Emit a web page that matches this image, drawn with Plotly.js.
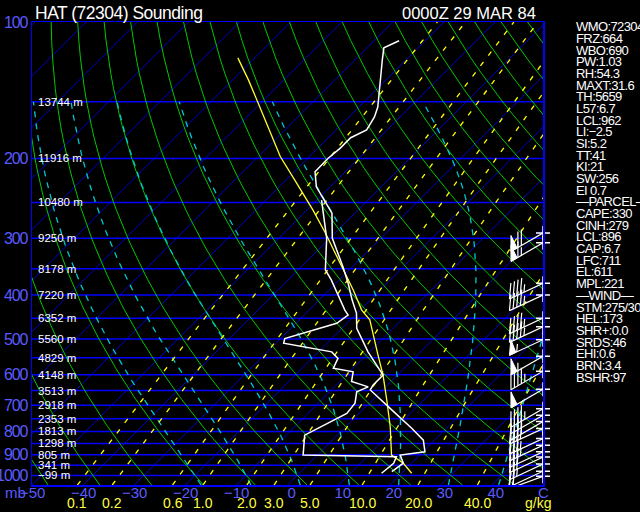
<!DOCTYPE html>
<html><head><meta charset="utf-8">
<script src="https://cdn.plot.ly/plotly-3.0.1.min.js"></script>
<style>html,body{margin:0;padding:0;background:#000;overflow:hidden}#chart{width:640px;height:512px}</style>
</head><body><div id="chart"></div>
<script>
// ---------------- data ----------------
const tempP = [110,114,121,138,154,162,173,180,190,200,214,231,247,264,300,318,347,377,410,439,474,534,571,601,632,648,717,787,836,887,902,940,981];
const tempC = [-65.1,-66.7,-64.7,-60.2,-56.3,-55.0,-54.0,-55.6,-55.6,-56.0,-55.9,-52.7,-48.6,-44.5,-39.5,-36.4,-31.8,-27.6,-23.6,-20.1,-17.1,-10.3,-6.0,-2.8,-2.8,-2.4,5.7,13.2,17.8,20.4,16.2,18.4,17.8];
const dewP = [247,300,310,352,371,409,432,443,462,499,511,534,552,580,591,621,638,654,693,730,774,815,902,910,940,989];
const dewC = [-49.1,-40.6,-39.4,-34.7,-31.5,-26.0,-23.0,-21.4,-22.0,-29.2,-28.5,-17.4,-14.9,-13.9,-9.3,-7.7,-3.4,-4.7,-2.8,-2.4,-4.7,-6.4,-2.8,15.8,16.5,16.1];
const parcelP = [120,134,152,198,227,260,292,329,358,390,432,454,543,601,682,781,902,940,989];
const parcelC = [-93.3,-87.0,-80.1,-65.7,-57.2,-48.8,-41.9,-35.1,-30.2,-25.3,-19.7,-16.2,-7.7,-2.8,2.8,8.7,14.5,18.4,22.0];

const windP   = [292,307,377,400,450,470,502,546,589,646,713,737,761,788,829,858,887,911,944,979,1005];
const windDir = [240,240,245,245,245,245,245,240,240,240,240,240,240,245,245,245,245,245,245,245,250];
const windKt  = [70,65,45,45,45,45,55,55,45,50,45,40,40,40,35,35,30,30,25,20,15];

const pressureTicks = [100,200,300,400,500,600,700,800,900,1000];
const isobarP = [150,200,250,300,350,400,450,500,550,600,650,700,750,800,850,900,950,1000];
const heightM = [13744,11916,10480,9250,8178,7220,6352,5560,4829,4148,3513,2918,2353,1813,1298,805,341,-99];
const tempTicks = [-50,-40,-30,-20,-10,0,10,20,30,40,50];
const tempTickText = ['\u221250','\u221240','\u221230','\u221220','\u221210','\u20020','\u200210','\u200220','\u200230','\u200240','C'];
const mixRatios = [0.1,0.2,0.6,1.0,2.0,3.0,5.0,10.0,20.0,40.0];
const mixRatioText = ['0.1','0.2','0.6','1.0','2.0','3.0','5.0','10.0','20.0','40.0'];
const indexLines = ['WMO:72304','FRZ:664','WBO:690','PW:1.03','RH:54.3','MAXT:31.6','TH:5659','L57:6.7','LCL:962','LI:\u22122.5','SI:5.2','TT:41','KI:21','SW:256','EI 0.7','\u2014PARCEL\u2014','CAPE:330','CINH:279','LCL:896','CAP:6.7','LFC:711','EL:611','MPL:221','\u2014WIND\u2014','STM:275/30','HEL:173','SHR+:0.0','SRDS:46','EHI:0.6','BRN:3.4','BSHR:97'];

// ---------------- geometry ----------------
const W = 640, H = 512;
const M = {l:32, r:97, t:22, b:27};
const PBOT = 1050, PTOP = 100;
const plotW = W - M.l - M.r, plotH = H - M.t - M.b;
const pxX = plotW / 100;
const pxDec = plotH / Math.log10(PBOT / PTOP);
const SKEW = pxDec / pxX;           // 45 degree isotherms
const sx = (T, p) => T + SKEW * Math.log10(PBOT / p);

const FONT = '"Liberation Sans", Arial, sans-serif';
const BLUE = '#0000ff', LBLUE = '#5a5aff', GREEN = '#00c800', CYAN = '#00c8d0', YEL = '#ffff00';
const tight = (t, ls) => '<span style="letter-spacing:' + ls + 'px">' + t + '</span>';

const traces = [];
function multi(lines, line, extra) {
  const x = [], y = [];
  lines.forEach(L => { L.forEach(([a, b]) => { x.push(a); y.push(b); }); x.push(null); y.push(null); });
  traces.push(Object.assign({type:'scatter', mode:'lines', x, y, line, hoverinfo:'skip', showlegend:false}, extra || {}));
}
const pLevels = [];
for (let p = PBOT; p >= PTOP - 0.01; p -= 10) pLevels.push(p);

// isotherms
const iso = [];
for (let T = -160; T <= 50; T += 10) iso.push([[sx(T, PBOT), PBOT], [sx(T, PTOP), PTOP]]);
multi(iso, {color: BLUE, width: 0.8});
// isobars
multi(isobarP.map(p => [[-50, p], [50, p]]), {color: BLUE, width: 1.5});

// dry adiabats
const dry = [];
for (let th = 183.15; th <= 463.15; th += 10) dry.push(pLevels.map(p => [sx(th * Math.pow(p / 1000, 0.2857) - 273.15, p), p]));
multi(dry, {color: GREEN, width: 1});

// moist adiabats
const esat = T => 6.112 * Math.exp(17.67 * T / (T + 243.5));
function lapse(p, TK) {
  const Rd = 287.04, Cp = 1005.7, Lv = 2.501e6, eps = 0.622;
  const es = esat(TK - 273.15), rs = eps * es / (p - es);
  return (Rd * TK + Lv * rs) / (p * (Cp + Lv * Lv * rs * eps / (Rd * TK * TK)));
}
function moist(thw) {
  const up = [], down = [];
  let T = thw + 273.15;
  for (let p = 1000; p >= 150; p -= 2) {
    if (p % 10 === 0) up.push([sx(T - 273.15, p), p]);
    const k1 = lapse(p, T), k2 = lapse(p - 1, T - k1);
    T -= 2 * k2;
  }
  T = thw + 273.15;
  for (let p = 1000; p <= 1050; p += 2) {
    if (p % 10 === 0) down.push([sx(T - 273.15, p), p]);
    const k1 = lapse(p, T), k2 = lapse(p + 1, T + k1);
    T += 2 * k2;
  }
  return down.reverse().concat(up.slice(1));
}
const moistLines = [];
for (let t = -20; t <= 40; t += 10) moistLines.push(moist(t));
multi(moistLines, {color: CYAN, width: 1.3, dash: '6px,6px'});

// mixing ratio lines
const tdFromE = e => { const l = Math.log(e / 6.112); return 243.5 * l / (17.67 - l); };
const mixT = (w, p) => tdFromE(w * p / (622 + w));
multi(mixRatios.map(w => pLevels.map(p => [sx(mixT(w, p), p), p])), {color: YEL, width: 1.3, dash: '5px,8px'});

// sounding
traces.push({type:'scatter', mode:'lines', x: parcelP.map((p, i) => sx(parcelC[i], p)), y: parcelP, line:{color:'#ffff30', width:1.3}, hoverinfo:'skip', showlegend:false});
traces.push({type:'scatter', mode:'lines', x: dewP.map((p, i) => sx(dewC[i], p)), y: dewP, line:{color:'#ffffff', width:1.5}, hoverinfo:'skip', showlegend:false});
traces.push({type:'scatter', mode:'lines', x: tempP.map((p, i) => sx(tempC[i], p)), y: tempP, line:{color:'#ffffff', width:1.5}, hoverinfo:'skip', showlegend:false});

// wind barbs (built in screen-pixel offsets from each base point)
const toData = (p, dx, dy) => [50 + dx / pxX, Math.pow(10, Math.log10(p) + dy / pxDec)];
const barbs = [], flags = [];
windP.forEach((p, i) => {
  const r = windDir[i] * Math.PI / 180;
  const ux = Math.sin(r), uy = -Math.cos(r);
  const px = -uy, py = ux;
  const L = 37, F = 16;
  const vx = -0.5 * ux + 0.866 * px, vy = -0.5 * uy + 0.866 * py;
  const tip = [L * ux, L * uy];
  barbs.push([toData(p, 0, 0), toData(p, tip[0], tip[1])]);
  let s = Math.round(windKt[i] / 5) * 5, off = 0;
  while (s >= 50) {
    const a = [tip[0] - off * ux, tip[1] - off * uy];
    const c = [a[0] - 7 * ux, a[1] - 7 * uy];
    const b = [a[0] + F * vx, a[1] + F * vy];
    flags.push([toData(p, a[0], a[1]), toData(p, b[0], b[1]), toData(p, c[0], c[1]), toData(p, a[0], a[1])]);
    s -= 50; off += 8;
  }
  while (s >= 10) {
    const a = [tip[0] - off * ux, tip[1] - off * uy];
    barbs.push([toData(p, a[0], a[1]), toData(p, a[0] + F * vx, a[1] + F * vy)]);
    s -= 10; off += 4;
  }
  if (s >= 5) {
    if (off === 0) off = 4;
    const a = [tip[0] - off * ux, tip[1] - off * uy];
    barbs.push([toData(p, a[0], a[1]), toData(p, a[0] + 0.5 * F * vx, a[1] + 0.5 * F * vy)]);
  }
});
multi(flags, {color:'#ffffff', width:1}, {fill:'toself', fillcolor:'#ffffff'});
multi(barbs, {color:'#ffffff', width:1.2});
traces.push({type:'scatter', mode:'markers', x: windP.map(() => 50), y: windP, cliponaxis:false,
  marker:{symbol:'cross-thin', size:10, line:{color:'#ffffff', width:1.5}}, hoverinfo:'skip', showlegend:false});

// ---------------- annotations ----------------
const ann = [];
isobarP.forEach((p, i) => ann.push({xref:'paper', yref:'y', x:0, y:Math.log10(p), xanchor:'left', yanchor:'middle', xshift:4,
  text: String(heightM[i]).replace('-', '\u2212') + ' m', showarrow:false, font:{family:FONT, size:11.5, color:'#ffffff'}}));
tempTicks.forEach((t, i) => ann.push({xref:'x', yref:'paper', x:t, y:0, xanchor:'center', yanchor:'middle', yshift:-7,
  text: tempTickText[i], showarrow:false, font:{family:FONT, size:15, color:LBLUE}}));
mixRatios.forEach((w, i) => ann.push({xref:'x', yref:'paper', x:mixT(w, PBOT), y:0, xanchor:'center', yanchor:'middle', yshift:-18,
  text: mixRatioText[i], showarrow:false, font:{family:FONT, size:14, color:'#ffff40'}}));
ann.push({xref:'x', yref:'paper', x:49, y:0, xanchor:'center', yanchor:'middle', yshift:-18, text:'g/kg', showarrow:false, font:{family:FONT, size:14, color:'#ffff40'}});
ann.push({xref:'paper', yref:'paper', x:0, y:0, xanchor:'right', yanchor:'middle', xshift:-4, yshift:-7, text:'mb', showarrow:false, font:{family:FONT, size:15, color:LBLUE}});
ann.push({xref:'paper', yref:'paper', x:1, y:1, xanchor:'right', yanchor:'middle', xshift:-5, yshift:9, text:'0000Z 29 MAR 84', showarrow:false, font:{family:FONT, size:16.5, color:'#ffffff'}});
indexLines.forEach((t, i) => ann.push({xref:'paper', yref:'paper', x:1, y:1, xanchor:'left', yanchor:'middle', xshift:31, yshift:-(4.7 + i * 11.68),
  text: tight(t, -0.6), showarrow:false, font:{family:FONT, size:13, color:'#ffffff'}}));

const layout = {
  width:W, height:H, margin:M, paper_bgcolor:'#000', plot_bgcolor:'#000', showlegend:false,
  title:{text: tight('HAT (72304) Sounding', -0.5), x:35 / W, xanchor:'left', xref:'container', y:1 - 13 / H, yanchor:'middle', yref:'container', font:{family:FONT, size:17.5, color:'#ffffff'}},
  xaxis:{range:[-50, 50], showgrid:false, zeroline:false, showticklabels:false, ticks:'', showline:true, mirror:true, linecolor:BLUE, linewidth:1.5, fixedrange:true},
  yaxis:{type:'log', range:[Math.log10(PBOT), Math.log10(PTOP)], tickvals:pressureTicks, ticktext:pressureTicks.map(v => tight(String(v), -1.1)), ticks:'', showgrid:false, zeroline:false,
    showline:true, mirror:true, linecolor:BLUE, linewidth:1.5, tickfont:{family:FONT, size:16, color:LBLUE}, fixedrange:true},
  annotations: ann
};
Plotly.newPlot('chart', traces, layout, {staticPlot:true});
</script></body></html>
